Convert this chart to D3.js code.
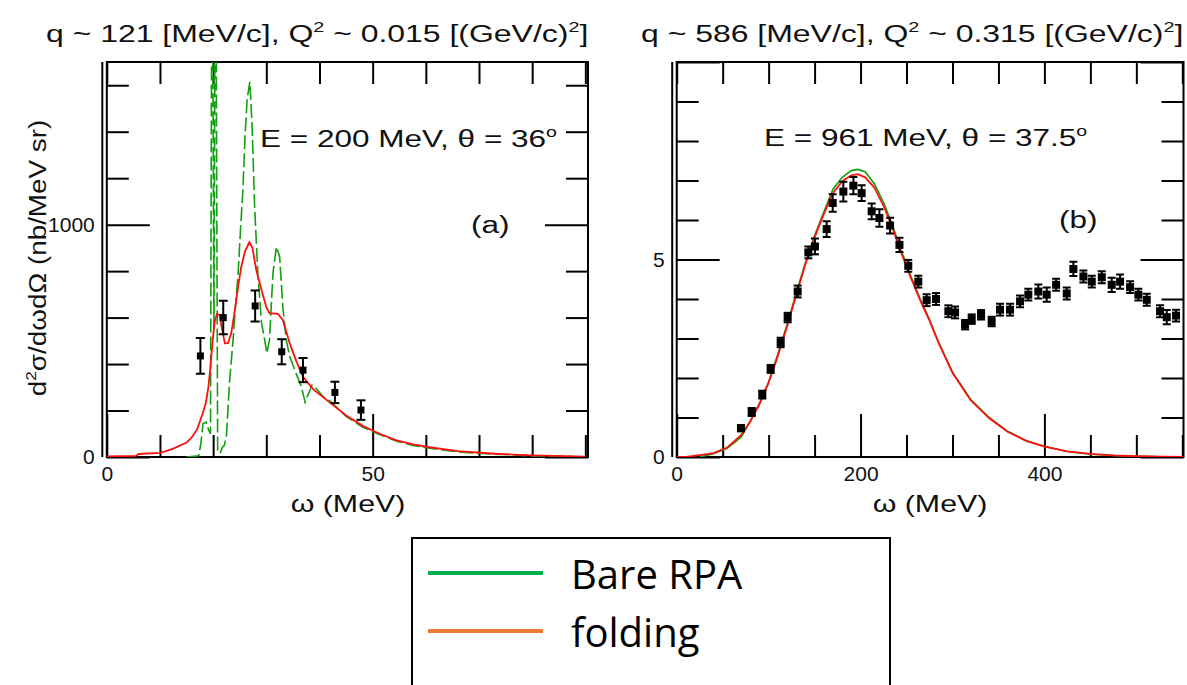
<!DOCTYPE html>
<html>
<head>
<meta charset="utf-8">
<script src="https://cdn.jsdelivr.net/npm/d3@7"></script>
<style>
  body { margin: 0; background: #fff; }
  svg { display: block; }
  .tick line { stroke: #000; stroke-width: 2; }
</style>
</head>
<body>
<div id="chart"></div>
<script>
// ---------- panel (a): E = 200 MeV ----------
var foldOmegaA = [0, 5.5, 6, 10, 11, 12.5, 15, 16, 17, 18, 18.6, 19.1, 19.5, 19.9, 20.3, 20.7, 21.2, 21.6, 22.2, 22.8, 23.4, 24.1, 24.7, 25.3, 26.0, 26.8, 27.4, 28.1, 29.1, 30.0, 30.6, 32.2, 33.1, 34.4, 35.6, 36.9, 38.8, 41.9, 45.1, 48.2, 51.3, 54.5, 57.6, 60.7, 66, 73, 80, 90];
var foldSigmaA = [3, 5, 13, 18, 24, 36, 62, 85, 120, 185, 230, 300, 390, 500, 583, 615, 612, 560, 489, 490, 532, 633, 734, 820, 885, 924, 899, 806, 719, 645, 619, 616, 590, 490, 415, 345, 292, 235, 178, 133, 100, 72, 54, 42, 25, 14, 7, 2];

var rpaOmegaA = [15, 17.3, 17.7, 18.1, 18.7, 19.1, 19.5, 19.8, 20.15, 20.45, 20.85, 21.3, 21.7, 22.1, 22.5, 23.1, 23.75, 24.2, 24.7, 25.2, 25.6, 26.0, 26.4, 26.9, 27.3, 27.8, 28.4, 29.1, 29.7, 30.1, 30.6, 31.25, 31.9, 32.5, 33.1, 33.75, 34.4, 35.6, 36.6, 37.3, 37.8, 38.6, 39.2, 40.6, 42, 45, 48, 51.3, 54.5, 57.6, 60.7, 66, 73, 80, 88];
var rpaSigmaA = [0, 5, 60, 144, 150, 120, 100, 2600, 550, 2600, 30, 15, 40, 50, 90, 330, 504, 650, 791, 1000, 1151, 1380, 1540, 1615, 1440, 1079, 791, 576, 504, 446, 504, 791, 905, 863, 647, 504, 432, 360, 302, 235, 265, 310, 300, 262, 240, 175, 130, 97, 68, 50, 38, 22, 12, 5, 2];

var dataOmegaA = [17.6, 21.9, 27.9, 32.9, 36.9, 42.9, 47.8];
var dataSigmaA = [435, 600, 650, 453, 374, 278, 202];
var dataErrA = [77, 72, 67, 54, 52, 46, 42];

var xMajorA = [0, 50];
var xMinorA = [10, 20, 30, 40, 60, 70, 80, 90];
var yMajorA = [0, 1000];
var yMinorA = [200, 400, 600, 800, 1200, 1400, 1600];

// ---------- panel (b): E = 961 MeV ----------
var foldOmegaB = [0, 10, 25, 40, 55, 70, 80, 90, 100, 110, 120, 130, 140, 150, 160, 170, 180, 190, 197, 205, 215, 225, 235, 245, 255, 265, 275, 285, 300, 320, 340, 360, 380, 400, 425, 450, 475, 500, 530, 551];
var foldSigmaB = [0, 0, 0.05, 0.1, 0.24, 0.55, 0.9, 1.33, 1.88, 2.56, 3.3, 4.1, 4.88, 5.56, 6.15, 6.68, 6.98, 7.13, 7.16, 7.08, 6.82, 6.36, 5.78, 5.12, 4.52, 3.96, 3.45, 2.88, 2.13, 1.43, 0.98, 0.64, 0.41, 0.26, 0.14, 0.08, 0.04, 0.02, 0.01, 0];

var rpaOmegaB = [25, 40, 55, 70, 80, 90, 100, 110, 120, 130, 140, 150, 160, 170, 180, 190, 197, 205, 215, 225, 235, 245, 255, 265, 275, 285, 300, 320, 340, 360, 380, 400, 425, 450, 480, 520];
var rpaSigmaB = [0, 0.08, 0.22, 0.5, 0.9, 1.36, 1.9, 2.6, 3.35, 4.15, 4.92, 5.6, 6.2, 6.78, 7.08, 7.25, 7.28, 7.22, 6.92, 6.45, 5.85, 5.18, 4.56, 4.0, 3.48, 2.9, 2.15, 1.45, 1.0, 0.65, 0.42, 0.27, 0.14, 0.07, 0.03, 0.01];

var dataOmegaB = [69.9, 81.6, 93.1, 102.2, 113.1, 120.7, 131.6, 143.2, 150.4, 163.1, 169.7, 181.3, 192.2, 201.2, 212.1, 220.5, 232.1, 242.3, 251.9, 262.8, 271.9, 282.1, 295.5, 302.8, 313.7, 320.9, 331.1, 342.6, 351.7, 362.6, 373.5, 382.5, 393.4, 402.5, 412.7, 424.3, 431.5, 442.4, 451.5, 462.4, 473.2, 482.3, 493.2, 502.2, 511.3, 525.8, 533.1, 543.2];
var dataSigmaB = [0.73, 1.14, 1.58, 2.23, 2.90, 3.53, 4.19, 5.18, 5.33, 5.77, 6.43, 6.72, 6.87, 6.68, 6.22, 6.05, 5.86, 5.37, 4.84, 4.44, 3.97, 4.00, 3.69, 3.66, 3.35, 3.49, 3.60, 3.43, 3.73, 3.73, 3.94, 4.11, 4.19, 4.11, 4.36, 4.14, 4.76, 4.57, 4.44, 4.55, 4.36, 4.44, 4.30, 4.11, 3.98, 3.69, 3.54, 3.58];
var dataErrB = [0.08, 0.1, 0.1, 0.1, 0.12, 0.12, 0.15, 0.15, 0.2, 0.2, 0.22, 0.25, 0.22, 0.2, 0.2, 0.22, 0.2, 0.18, 0.15, 0.15, 0.15, 0.15, 0.15, 0.15, 0.12, 0.12, 0.12, 0.12, 0.15, 0.15, 0.15, 0.15, 0.18, 0.18, 0.15, 0.15, 0.18, 0.15, 0.15, 0.15, 0.18, 0.18, 0.15, 0.15, 0.15, 0.15, 0.18, 0.15];

var xMajorB = [0, 200, 400];
var xMinorB = [50, 100, 150, 250, 300, 350, 450, 500, 550];
var yMajorB = [0, 5, 10];
var yMinorB = [1, 2, 3, 4, 6, 7, 8, 9];

var legendLabels = ["Bare RPA", "folding"];
var legendColors = ["#00b050", "#ed7d31"];

var width = 1187, height = 685;
var svg = d3.select("#chart").append("svg")
    .attr("width", width).attr("height", height)
    .style("font-family", "'Liberation Sans', Arial, sans-serif");

// text with horizontally widened glyphs, parts = [[string, isSup, dropBack], ...]
function label(x, y, parts, size, anchor, sx, rot) {
    var t = svg.append("text")
        .attr("transform", "translate(" + x + "," + y + ") rotate(" + (rot || 0) + ") scale(" + sx + ",1)")
        .attr("text-anchor", anchor)
        .style("font-size", size + "px")
        .attr("fill", "#111");
    parts.forEach(function(p) {
        var s = t.append("tspan").text(p[0]);
        if (p[1]) s.style("font-size", (size * 0.62) + "px").attr("dy", -size * 0.42);
        else if (p[2]) s.attr("dy", size * 0.42);
    });
    return t;
}

function panel(cfg) {
    var x = d3.scaleLinear().domain([0, cfg.xmax]).range([cfg.left, cfg.right]);
    var y = d3.scaleLinear().domain([0, cfg.ymax]).range([cfg.bottom, cfg.top]);
    var g = svg.append("g");

    g.append("clipPath").attr("id", cfg.id).append("rect")
        .attr("x", cfg.left).attr("y", cfg.top)
        .attr("width", cfg.right - cfg.left).attr("height", cfg.bottom - cfg.top);

    // ticks (inward on all sides)
    function ax(axis, tr, vals, size, fmt, pad) {
        var a = axis.tickValues(vals).tickSize(-size).tickPadding(pad || 0);
        a.tickFormat(fmt ? d3.format("d") : "");
        var s = g.append("g").attr("transform", tr).call(a);
        s.select(".domain").remove();
        s.selectAll("text").style("font-size", "21px").attr("fill", "#111")
            .style("font-family", "'Liberation Sans', Arial, sans-serif");
        return s;
    }
    ax(d3.axisBottom(x), "translate(0," + cfg.bottom + ")", cfg.xMajor, 43, true, 9);
    ax(d3.axisBottom(x), "translate(0," + cfg.bottom + ")", cfg.xMinor, 22);
    ax(d3.axisTop(x), "translate(0," + cfg.top + ")", cfg.xMajor.concat(cfg.xMinor), 22);
    ax(d3.axisLeft(y), "translate(" + cfg.left + ",0)", cfg.yMajor, 43, true, 12)
        .selectAll("text").filter(function(d) { return d > cfg.ymax * 0.9; }).remove();
    ax(d3.axisLeft(y), "translate(" + cfg.left + ",0)", cfg.yMinor, 22);
    ax(d3.axisRight(y), "translate(" + cfg.right + ",0)", cfg.yMajor, 43);
    ax(d3.axisRight(y), "translate(" + cfg.right + ",0)", cfg.yMinor, 22);

    // frame
    g.append("rect").attr("x", cfg.left).attr("y", cfg.top)
        .attr("width", cfg.right - cfg.left).attr("height", cfg.bottom - cfg.top)
        .attr("fill", "none").attr("stroke", "#000").attr("stroke-width", 2);
    g.append("line").attr("x1", cfg.left - 4.5).attr("x2", cfg.left - 4.5)
        .attr("y1", cfg.top).attr("y2", cfg.bottom)
        .attr("stroke", "#000").attr("stroke-width", 2);

    var plot = g.append("g").attr("clip-path", "url(#" + cfg.id + ")");
    var line = d3.line().x(function(d) { return x(d[0]); }).y(function(d) { return y(d[1]); });

    plot.append("path").datum(d3.zip(cfg.rpaOmega, cfg.rpaSigma))
        .attr("d", line).attr("fill", "none").attr("stroke", "#10a010")
        .attr("stroke-width", 1.6).attr("stroke-dasharray", cfg.dash || null);
    plot.append("path").datum(d3.zip(cfg.foldOmega, cfg.foldSigma))
        .attr("d", line).attr("fill", "none").attr("stroke", "#ff1010")
        .attr("stroke-width", 1.8);

    var pts = plot.selectAll(".pt").data(d3.zip(cfg.dataOmega, cfg.dataSigma, cfg.dataErr))
        .enter().append("g");
    pts.append("line")
        .attr("x1", function(d) { return x(d[0]); }).attr("x2", function(d) { return x(d[0]); })
        .attr("y1", function(d) { return y(d[1] - d[2]); }).attr("y2", function(d) { return y(d[1] + d[2]); })
        .attr("stroke", "#000").attr("stroke-width", 2);
    [-1, 1].forEach(function(sg) {
        pts.append("line")
            .attr("x1", function(d) { return x(d[0]) - cfg.cap; }).attr("x2", function(d) { return x(d[0]) + cfg.cap; })
            .attr("y1", function(d) { return y(d[1] + sg * d[2]); }).attr("y2", function(d) { return y(d[1] + sg * d[2]); })
            .attr("stroke", "#000").attr("stroke-width", 2);
    });
    pts.append("rect")
        .attr("x", function(d) { return x(d[0]) - cfg.sq / 2; })
        .attr("y", function(d) { return y(d[1]) - cfg.sq / 2; })
        .attr("width", cfg.sq).attr("height", cfg.sq).attr("fill", "#000");
    return { x: x, y: y };
}

panel({
    id: "clipA", left: 106.8, right: 588, top: 62, bottom: 457, xmax: 90.5, ymax: 1700,
    xMajor: xMajorA, xMinor: xMinorA, yMajor: yMajorA, yMinor: yMinorA,
    foldOmega: foldOmegaA, foldSigma: foldSigmaA, rpaOmega: rpaOmegaA, rpaSigma: rpaSigmaA,
    dataOmega: dataOmegaA, dataSigma: dataSigmaA, dataErr: dataErrA,
    dash: "14,4", sq: 7, cap: 4.5
});
panel({
    id: "clipB", left: 676.7, right: 1183.5, top: 62, bottom: 457, xmax: 551.3, ymax: 10,
    xMajor: xMajorB, xMinor: xMinorB, yMajor: yMajorB, yMinor: yMinorB,
    foldOmega: foldOmegaB, foldSigma: foldSigmaB, rpaOmega: rpaOmegaB, rpaSigma: rpaSigmaB,
    dataOmega: dataOmegaB, dataSigma: dataSigmaB, dataErr: dataErrB,
    sq: 8, cap: 4
});

// titles and annotations
label(46, 42, [["q ~ 121 [MeV/c], Q"], ["2", true], [" ~ 0.015 [(GeV/c)", false, true], ["2", true], ["]", false, true]], 23, "start", 1.39);
label(641, 42, [["q ~ 586 [MeV/c], Q"], ["2", true], [" ~ 0.315 [(GeV/c)", false, true], ["2", true], ["]", false, true]], 23, "start", 1.39);
label(260, 147, [["E = 200 MeV, \u03b8 = 36"], ["o", true]], 23, "start", 1.37);
label(764, 146, [["E = 961 MeV, \u03b8 = 37.5"], ["o", true]], 23, "start", 1.37);
label(471, 233, [["(a)"]], 23, "start", 1.37);
label(1059, 228, [["(b)"]], 23, "start", 1.37);
label(348, 512, [["\u03c9 (MeV)"]], 23, "middle", 1.32);
label(930, 512, [["\u03c9 (MeV)"]], 23, "middle", 1.32);
label(46, 258, [["d"], ["2", true], ["\u03c3/d\u03c9d\u03a9 (nb/MeV sr)", false, true]], 23, "middle", 1.21, -90);

// legend
var leg = svg.append("g");
leg.append("rect").attr("x", 412).attr("y", 538).attr("width", 478).attr("height", 170)
    .attr("fill", "#fff").attr("stroke", "#000").attr("stroke-width", 2);
var rows = leg.selectAll(".row").data(legendLabels).enter().append("g")
    .attr("transform", function(d, i) { return "translate(0," + (573 + i * 58) + ")"; });
rows.append("line").attr("x1", 428).attr("x2", 543).attr("y1", 0).attr("y2", 0)
    .attr("stroke", function(d, i) { return legendColors[i]; }).attr("stroke-width", 4);
rows.append("text").attr("x", 571).attr("y", 16).text(function(d) { return d; })
    .style("font-family", "'Open Sans', sans-serif").style("font-size", "40px").attr("fill", "#000");
</script>
</body>
</html>
